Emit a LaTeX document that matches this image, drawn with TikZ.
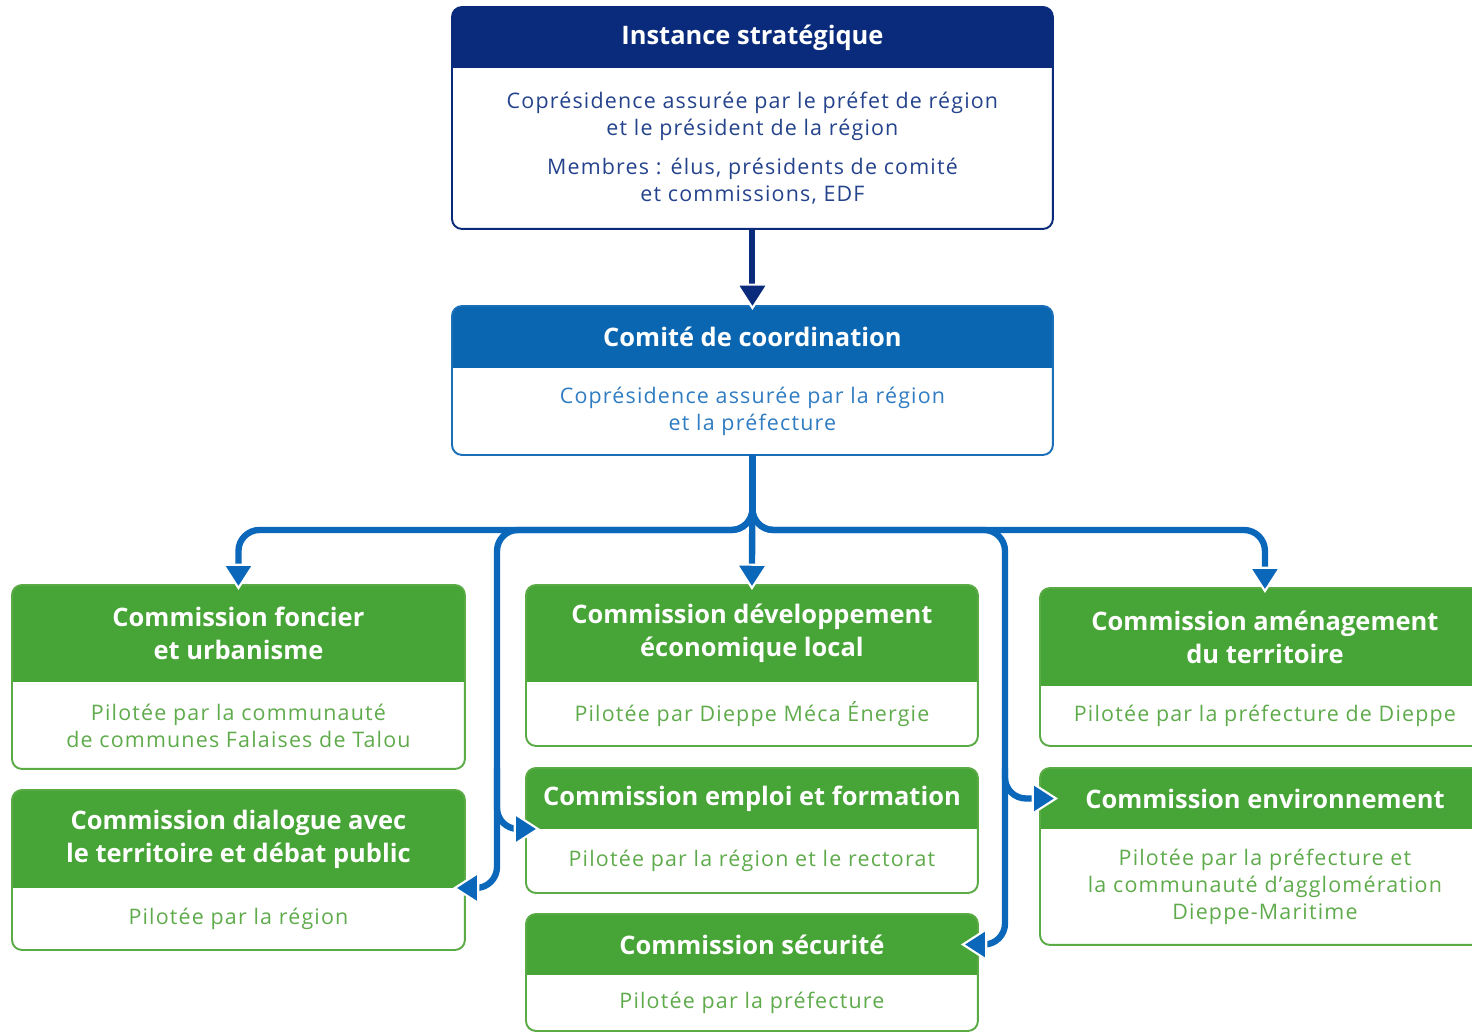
\documentclass[tikz,border=0pt]{standalone}
\usepackage{fontspec}
\setmainfont{Open Sans}
\usetikzlibrary{arrows.meta,calc,backgrounds}

\definecolor{navyhead}{HTML}{0A2B7B}
\definecolor{navyline}{HTML}{0A2B7B}
\definecolor{navytext}{HTML}{24438C}
\definecolor{bluehead}{HTML}{0A66B1}
\definecolor{blueline}{HTML}{1A6FB8}
\definecolor{bluetext}{HTML}{2F7CC2}
\definecolor{greenhead}{HTML}{47A436}
\definecolor{greenline}{HTML}{5AAA46}
\definecolor{greentext}{HTML}{5FAB4C}
\definecolor{linkblue}{HTML}{0B67B9}

\tikzset{
  boxhead/.style={anchor=north west, inner sep=0pt, outer sep=0pt, text=white, align=center,
    font=\fontsize{14.5}{18.7}\selectfont\bfseries},
  boxbody/.style={anchor=north west, inner sep=0pt, outer sep=0pt, align=center,
    font=\fontsize{12.2}{15.3}\selectfont\addfontfeatures{LetterSpace=5.5}},
  link/.style={draw=linkblue, line width=3.6pt, rounded corners=.42cm,
    -{Triangle[length=15pt,width=19pt,fill=linkblue,color=white,line width=1.2pt]}},
  navyarrow/.style={draw=navyhead, line width=3.4pt,
    -{Triangle[length=15pt,width=19pt,fill=navyhead,color=white,line width=1.2pt]}}
}

\begin{document}
\begin{tikzpicture}[x=0.02cm, y=-0.02cm]
\useasboundingbox (0,0) rectangle (1472,1033);

% instances
\node[boxhead, minimum width=12.02cm, minimum height=1.22cm] (inshead) at (452,7) {Instance stratégique};
\node[boxbody, text=navytext, minimum width=12.02cm, minimum height=3.22cm] (insbody) at (inshead.south west)
  {Coprésidence assurée par le préfet de région\\et le président de la région\\[7pt]Membres : élus, présidents de comité\\et commissions, EDF};
\node[boxhead, minimum width=12.02cm, minimum height=1.24cm] (comhead) at (452,306) {Comité de coordination};
\node[boxbody, text=bluetext, minimum width=12.02cm, minimum height=1.74cm] (combody) at (comhead.south west)
  {Coprésidence assurée par la région\\et la préfecture};

% commissions
\node[boxhead, minimum width=9.06cm, minimum height=1.94cm] (fonhead) at (12,585) {Commission foncier\\et urbanisme};
\node[boxbody, text=greentext, minimum width=9.06cm, minimum height=1.74cm] (fonbody) at (fonhead.south west)
  {Pilotée par la communauté\\de communes Falaises de Talou};
\node[boxhead, minimum width=9.06cm, minimum height=1.96cm] (diahead) at (12,790) {Commission dialogue avec\\le territoire et débat public};
\node[boxbody, text=greentext, minimum width=9.06cm, minimum height=1.24cm] (diabody) at (diahead.south west)
  {Pilotée par la région};
\node[boxhead, minimum width=9.04cm, minimum height=1.94cm] (devhead) at (526,585) {Commission développement\\économique local};
\node[boxbody, text=greentext, minimum width=9.04cm, minimum height=1.28cm] (devbody) at (devhead.south west)
  {Pilotée par Dieppe Méca Énergie};
\node[boxhead, minimum width=9.04cm, minimum height=1.22cm] (emphead) at (526,768) {Commission emploi et formation};
\node[boxbody, text=greentext, minimum width=9.04cm, minimum height=1.28cm] (empbody) at (emphead.south west)
  {Pilotée par la région et le rectorat};
\node[boxhead, minimum width=9.04cm, minimum height=1.22cm] (sechead) at (526,914) {Commission sécurité};
\node[boxbody, text=greentext, minimum width=9.04cm, minimum height=1.12cm] (secbody) at (sechead.south west)
  {Pilotée par la préfecture};
\node[boxhead, minimum width=9cm, minimum height=1.96cm] (amehead) at (1040,588) {Commission aménagement\\du territoire};
\node[boxbody, text=greentext, minimum width=9cm, minimum height=1.2cm] (amebody) at (amehead.south west)
  {Pilotée par la préfecture de Dieppe};
\node[boxhead, minimum width=9cm, minimum height=1.22cm] (envhead) at (1040,768) {Commission environnement};
\node[boxbody, text=greentext, minimum width=9cm, minimum height=2.32cm] (envbody) at (envhead.south west)
  {Pilotée par la préfecture et\\la communauté d’agglomération\\Dieppe-Maritime};

\begin{scope}[on background layer]
\foreach \bx/\kind in {ins/navy,com/blue,fon/green,dia/green,dev/green,emp/green,sec/green,ame/green,env/green}{
  \fill[\kind head] (\bx head.south west) [rounded corners=.2cm] -- (\bx head.north west)
    -- (\bx head.north east) [sharp corners] -- (\bx head.south east) -- cycle;
}
\end{scope}
\foreach \bx/\kind in {ins/navy,com/blue,fon/green,dia/green,dev/green,emp/green,sec/green,ame/green,env/green}
  \draw[\kind line, line width=1.1pt, rounded corners=.2cm] (\bx head.north west) rectangle (\bx body.south east);

% liaisons
\coordinate (railL) at (497,530);
\coordinate (railR) at (1005,530);
\draw[navyarrow] (insbody.south) -- ($(comhead.north)+(0,4)$);
\draw[link] (combody.south) -- ($(devhead.north)+(0,5)$);
\draw[link] (combody.south) |- (railL) -| ($(fonhead.north)+(0,5)$);
\draw[link] (combody.south) |- (railR) -| ($(amehead.north)+(0,5)$);
\draw[link] (combody.south) |- (railL) |- ($(diahead.south east)+(-12,0)$);
\draw[link] (combody.south) |- (railR) |- ($(sechead.east)+(-17,0)$);
\draw[link] (railL |- emphead.north) |- ($(emphead.south west)+(14,0)$);
\draw[link] (railR |- envhead.north) |- ($(envhead.west)+(18,0)$);
\end{tikzpicture}
\end{document}
